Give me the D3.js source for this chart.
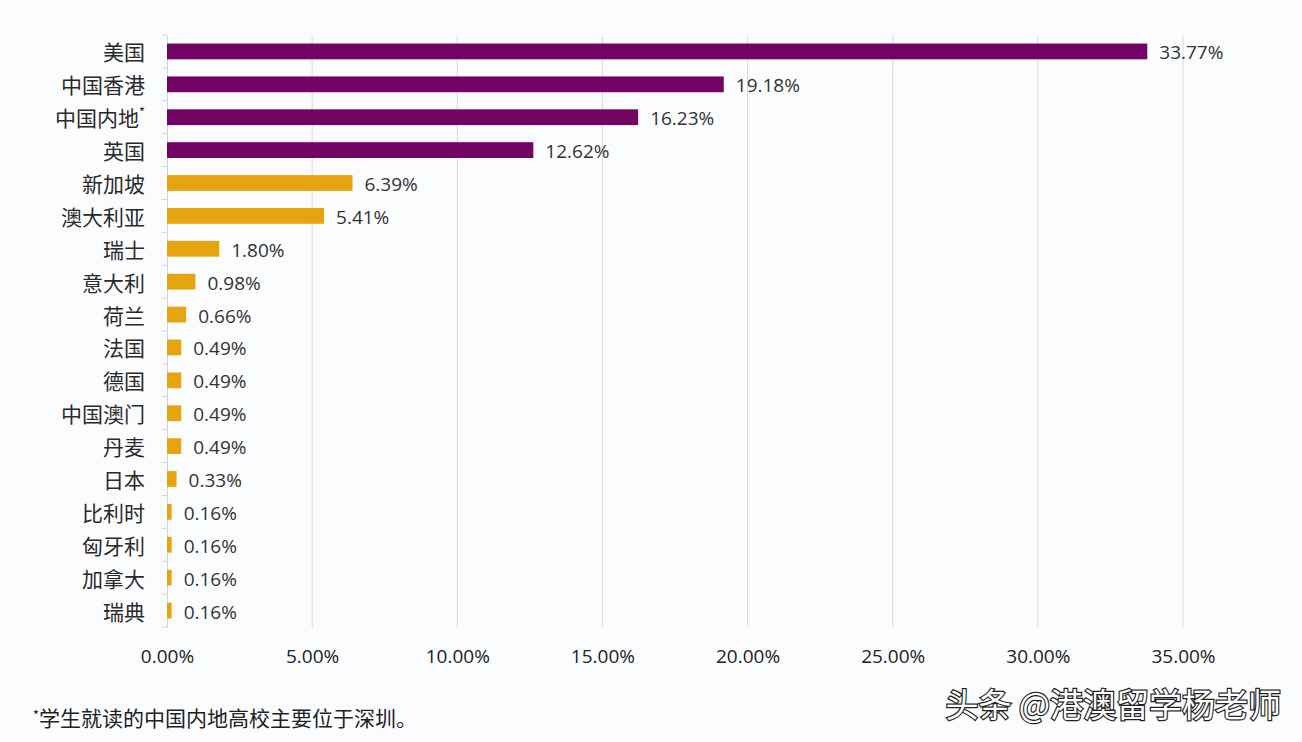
<!DOCTYPE html>
<html><head><meta charset="utf-8">
<script src="https://cdn.jsdelivr.net/npm/d3@7"></script>
<style>
html,body{margin:0;padding:0;background:#fbfcfe;}
svg{display:block;font-family:"Noto Sans CJK SC","Noto Sans",sans-serif;}
</style></head>
<body>
<svg id="chart" width="1302" height="742"></svg>
<script>
const categories = ["美国","中国香港","中国内地*","英国","新加坡","澳大利亚","瑞士","意大利","荷兰","法国","德国","中国澳门","丹麦","日本","比利时","匈牙利","加拿大","瑞典"];
const values = [33.77,19.18,16.23,12.62,6.39,5.41,1.80,0.98,0.66,0.49,0.49,0.49,0.49,0.33,0.16,0.16,0.16,0.16];
const groups = ["top","top","top","top","other","other","other","other","other","other","other","other","other","other","other","other","other","other"];
const xTicks = [0,5,10,15,20,25,30,35];
const footnote = "学生就读的中国内地高校主要位于深圳。";
const watermark = "头条 @港澳留学杨老师";

const colorScale = d3.scaleOrdinal().domain(["top","other"]).range(["#720466","#e6a50e"]);

const svg = d3.select("#chart");
const x = d3.scaleLinear().domain([0,35]).range([167,1183]);
const y = d3.scaleBand().domain(categories).range([35,627]).paddingInner(0.52).paddingOuter(0.26);

// gridlines
svg.append("g").selectAll("line").data(xTicks.slice(1)).join("line")
  .attr("x1",d=>x(d)).attr("x2",d=>x(d)).attr("y1",35).attr("y2",627)
  .attr("stroke","#d5d9e0").attr("stroke-width",1);

// y axis
const ya = svg.append("g").attr("transform","translate(167,0)").call(d3.axisLeft(y).tickSize(0).tickFormat(""));
ya.select(".domain").attr("stroke","#cfd3da");
const bounds = d3.range(categories.length+1).map(i => 35 + i*592/categories.length);
svg.append("g").selectAll("line").data(bounds).join("line")
  .attr("x1",162).attr("x2",167).attr("y1",d=>d).attr("y2",d=>d)
  .attr("stroke","#cfd3da");

// category labels
svg.append("g").selectAll("text").data(categories).join("text")
  .attr("x",145).attr("y",d=>y(d)+y.bandwidth()/2)
  .attr("text-anchor","end").attr("dominant-baseline","central")
  .attr("font-size",21).attr("fill","#2a2a2a")
  .each(function(d){
    const t=d3.select(this);
    if(d.endsWith("*")){
      t.text(d.slice(0,-1));
      t.append("tspan").attr("font-size",13).attr("dy",-6).text("*");
    } else t.text(d);
  });

// bars
svg.append("g").selectAll("rect").data(values).join("rect")
  .attr("x",x(0)).attr("y",(d,i)=>y(categories[i]))
  .attr("width",d=>x(d)-x(0)).attr("height",y.bandwidth())
  .attr("fill",(d,i)=>colorScale(groups[i]));

// value labels
svg.append("g").selectAll("text").data(values).join("text")
  .attr("x",d=>x(d)+12).attr("y",(d,i)=>y(categories[i])+y.bandwidth()/2+1)
  .attr("dominant-baseline","central").attr("font-size",19).attr("fill","#333")
  .attr("font-family","'Open Sans','Noto Sans',sans-serif")
  .text(d=>d.toFixed(2)+"%");

// x axis labels
const xa = svg.append("g").attr("transform","translate(0,646)")
  .call(d3.axisBottom(x).tickValues(xTicks).tickSize(0).tickFormat(d=>d.toFixed(2)+"%"));
xa.select(".domain").remove();
xa.selectAll("text").attr("font-size",19).attr("fill","#222")
  .attr("font-family","'Open Sans','Noto Sans',sans-serif");

// footnote
const fn = svg.append("text").attr("x",33).attr("y",726).attr("font-size",21).attr("fill","#222");
fn.append("tspan").attr("font-size",13).attr("dy",-6).text("*");
fn.append("tspan").attr("dy",6).text(footnote);

// watermark
svg.append("text").attr("x",1281).attr("y",717).attr("text-anchor","end")
  .attr("font-size",33).attr("fill","#ffffff").attr("stroke","#222").attr("stroke-width",2.4)
  .attr("paint-order","stroke").attr("font-family","'Noto Sans CJK SC',sans-serif")
  .text(watermark);
</script>
</body></html>
